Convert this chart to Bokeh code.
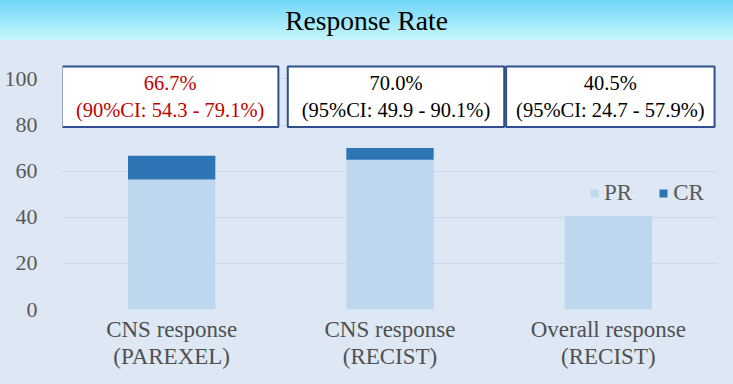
from bokeh.plotting import figure
from bokeh.models import (ColumnDataSource, FactorRange, Range1d, FixedTicker, Div,
                          GlobalInlineStyleSheet, Label)
from bokeh.layouts import column
from bokeh.embed import file_html
from bokeh.resources import INLINE

# ---------------- data ----------------
categories = ["CNS response\n(PAREXEL)", "CNS response\n(RECIST)", "Overall response\n(RECIST)"]
pr_values = [56.4, 65.0, 40.5]
cr_values = [10.3, 5.0, 0.0]
response_rates = [66.7, 70.0, 40.5]
ci_levels = [90, 95, 95]
ci_low = [54.3, 49.9, 24.7]
ci_high = [79.1, 90.1, 57.9]
y_ticks = [0, 20, 40, 60, 80, 100]
series_names = ["PR", "CR"]
title_text = "Response Rate"

# ---------------- styles ----------------
BG = "#DDE8F4"
PR_COLOR = "#BDD7EE"
CR_COLOR = "#2E75B6"
GRID = "#CCD8E8"
AXIS_TEXT = "#595959"
CAT_TEXT = "#505050"
BOX_BORDER = "#2F4E8C"
FONT = "Liberation Serif"
text_colors = ["#C00000", "#000000", "#000000"]
box_x_offsets = [-1.5, 6, 2]          # px
box_paddings = [(14, 6), (14, 6), (10, 6)]

page_css = GlobalInlineStyleSheet(css=f"""
html, body {{
  background-color: {BG};
  background-image: linear-gradient(to bottom, #6FD6F8 0px, #C7F6FB 40px);
  background-size: 100% 40px;
  background-repeat: no-repeat;
}}
""")

banner = Div(
    text=title_text, width=717, height=32,
    styles={"font-family": FONT, "font-size": "27.5px", "line-height": "32px",
            "text-align": "center", "text-indent": "6px", "color": "#000000"},
    stylesheets=[page_css],
)

source = ColumnDataSource(dict(cats=categories, PR=pr_values, CR=cr_values))

p = figure(
    width=717, height=336,
    x_range=FactorRange(*categories, range_padding=0),
    y_range=Range1d(0, 115.8),
    output_backend="svg", toolbar_location=None, title=None,
    min_border_left=62, min_border_right=0, min_border_top=0, min_border_bottom=69,
    background_fill_color=BG, border_fill_color=BG,
)
p.outline_line_color = None

p.vbar_stack(series_names, x="cats", width=0.4, source=source,
             color=[PR_COLOR, CR_COLOR], line_color=None,
             legend_label=series_names)

# annotation boxes (labels with border, not clipped to the frame)
# a flat FactorRange places factor i at synthetic coordinate i + 0.5
for i, (rate, lv, lo, hi, col, dx, pad) in enumerate(zip(response_rates, ci_levels, ci_low,
                                                          ci_high, text_colors, box_x_offsets,
                                                          box_paddings)):
    txt = f"{rate:.1f}%\n({lv}%CI: {lo:.1f} - {hi:.1f}%)"
    p.add_layout(Label(
        x=i + 0.5, y=92.3, x_offset=dx, text=txt,
        text_font=FONT, text_font_size="20.5px", text_color=col,
        text_align="center", text_baseline="middle", text_line_height=1.2,
        background_fill_color="white", border_line_color=BOX_BORDER,
        border_line_width=2, padding=pad,
    ))

# axes
p.xgrid.grid_line_color = None
p.ygrid.grid_line_color = GRID
p.ygrid.ticker = FixedTicker(ticks=y_ticks)

p.yaxis.ticker = FixedTicker(ticks=y_ticks)
p.yaxis.axis_line_color = None
p.yaxis.major_tick_line_color = None
p.yaxis.minor_tick_line_color = None
p.yaxis.major_label_standoff = 19
p.yaxis.major_label_text_font = FONT
p.yaxis.major_label_text_font_size = "22px"
p.yaxis.major_label_text_color = AXIS_TEXT

p.xaxis.axis_line_color = None
p.xaxis.major_tick_line_color = None
p.xaxis.major_label_standoff = 1
p.xaxis.major_label_text_font = FONT
p.xaxis.major_label_text_font_size = "23px"
p.xaxis.major_label_text_line_height = 1.1
p.xaxis.major_label_text_color = CAT_TEXT

# legend
lg = p.legend[0]
lg.location = (527, 103)
lg.orientation = "horizontal"
lg.glyph_width = 10
lg.glyph_height = 10
lg.label_standoff = 5
lg.spacing = 26
lg.padding = 0
lg.margin = 0
lg.label_text_font = FONT
lg.label_text_font_size = "23px"
lg.label_text_color = AXIS_TEXT
lg.background_fill_alpha = 0
lg.border_line_alpha = 0

layout = column(banner, p, spacing=0)

open("out.html", "w").write(file_html(layout, INLINE))
